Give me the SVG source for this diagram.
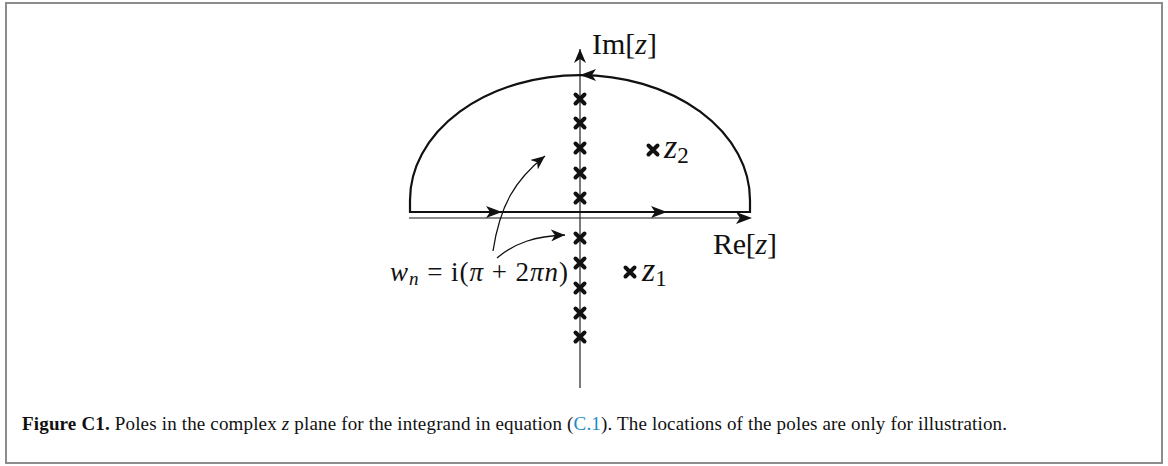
<svg xmlns="http://www.w3.org/2000/svg" width="1168" height="466" viewBox="0 0 1168 466">
<style>
.frame{fill:none;stroke:#8c8c8c;stroke-width:2}
.contour{fill:none;stroke:#111;stroke-width:2.2}
.axis{fill:none;stroke:#333;stroke-width:1.3}
.raxis{fill:none;stroke:#8a8a8a;stroke-width:2}
.lead{fill:none;stroke:#111;stroke-width:1.3}
.pole{stroke:#111;stroke-width:4;stroke-linecap:round}
.math{font-family:"Liberation Serif","DejaVu Serif",serif;fill:#111}
.it{font-style:italic}
.cap{font-family:"Liberation Serif","DejaVu Serif",serif;font-size:19px;fill:#111}
</style>
<defs>
<path id="x" class="pole" d="M-4.5,-4.5 L4.5,4.5 M4.5,-4.5 L-4.5,4.5"/>
<marker id="ah" markerWidth="16" markerHeight="12" refX="14" refY="6" orient="auto" markerUnits="userSpaceOnUse">
<path d="M0,0 L14,6 L0,12 L4,6 Z" fill="#111"/>
</marker>
</defs>
<rect class="frame" x="6" y="3" width="1156" height="460"/>
<g id="connectors">
<path class="raxis" d="M409,218 L740,218"/>
<path d="M736,212 L752,218 L736,224 L740,218 Z" fill="#111"/>
<path class="axis" d="M580,388 L580,49" marker-end="url(#ah)"/>
<path class="contour" d="M410,212 L410,200 A170,125 0 0 1 750,200 L750,212 Z"/>
<path d="M486,206 L502,212 L486,218 L490,212 Z" fill="#111"/>
<path d="M651,206 L667,212 L651,218 L655,212 Z" fill="#111"/>
<path d="M596,69 L580,75 L596,81 L592,75 Z" fill="#111"/>
<path class="lead" d="M493,251 C500,205 515,180 545,156" marker-end="url(#ah)"/>
<path class="lead" d="M497,258 C515,243 535,236 565,235" marker-end="url(#ah)"/>
</g>
<g id="poles-imag">
<use href="#x" x="580" y="99"/>
<use href="#x" x="580" y="123"/>
<use href="#x" x="580" y="148"/>
<use href="#x" x="580" y="173"/>
<use href="#x" x="580" y="198"/>
<use href="#x" x="580" y="238"/>
<use href="#x" x="580" y="263"/>
<use href="#x" x="580" y="288"/>
<use href="#x" x="580" y="313"/>
<use href="#x" x="580" y="337"/>
</g>
<g id="pole-z2">
<use href="#x" x="653" y="150"/>
<text class="math" x="664" y="158" font-size="34"><tspan class="it">z</tspan><tspan font-size="23" dy="5">2</tspan></text>
</g>
<g id="pole-z1">
<use href="#x" x="630" y="272"/>
<text class="math" x="642" y="281" font-size="34"><tspan class="it">z</tspan><tspan font-size="23" dy="5">1</tspan></text>
</g>
<g id="label-im">
<text class="math" x="592" y="54" font-size="30" textLength="65">Im[<tspan class="it">z</tspan>]</text>
</g>
<g id="label-re">
<text class="math" x="713" y="254" font-size="30" textLength="64">Re[<tspan class="it">z</tspan>]</text>
</g>
<g id="label-wn">
<text class="math" x="390" y="281" font-size="27" textLength="178"><tspan class="it">w</tspan><tspan class="it" font-size="19" dy="4">n</tspan><tspan dy="-4"> = i(</tspan><tspan class="it">π</tspan> + 2<tspan class="it">πn</tspan>)</text>
</g>
<g id="caption">
<text class="cap" x="22" y="430" textLength="985"><tspan font-weight="bold">Figure C1.</tspan> Poles in the complex <tspan font-style="italic">z</tspan> plane for the integrand in equation (<tspan fill="#1a8ac6">C.1</tspan>). The locations of the poles are only for illustration.</text>
</g>
</svg>
